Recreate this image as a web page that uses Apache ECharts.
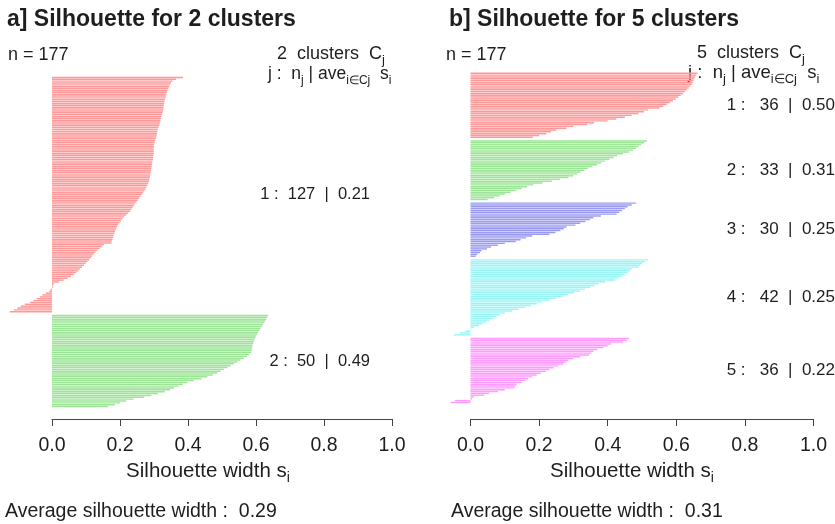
<!DOCTYPE html>
<html>
<head>
<meta charset="utf-8">
<script src="https://cdn.jsdelivr.net/npm/echarts@6/dist/echarts.min.js"></script>
<style>
  html, body { margin: 0; padding: 0; background: #ffffff; }
  #chart { width: 835px; height: 524px; }
</style>
</head>
<body>
<div id="chart"></div>
<script>
// Silhouette widths s(i), sorted within each cluster (top to bottom).
// Panel a: 2-cluster solution
const silA1 = [
  0.385, 0.365, 0.355, 0.350, 0.347, 0.345, 0.342, 0.340, 0.338, 0.336,
  0.335, 0.334, 0.332, 0.331, 0.330, 0.329, 0.328, 0.328, 0.327, 0.325,
  0.323, 0.321, 0.320, 0.319, 0.318, 0.317, 0.315, 0.313, 0.311, 0.310,
  0.309, 0.308, 0.307, 0.305, 0.303, 0.302, 0.300, 0.300, 0.299, 0.299,
  0.299, 0.299, 0.298, 0.298, 0.297,
  0.296, 0.295, 0.294, 0.293, 0.292, 0.291, 0.290, 0.289, 0.288, 0.287, 0.286,
  0.285, 0.283, 0.280, 0.278, 0.275, 0.272, 0.268, 0.264, 0.260, 0.256,
  0.252, 0.248, 0.244, 0.240, 0.237, 0.233, 0.229, 0.224, 0.218, 0.212,
  0.207, 0.203, 0.199, 0.195, 0.192, 0.189, 0.187, 0.185, 0.183, 0.181,
  0.180, 0.178, 0.176, 0.175,
  0.152, 0.146, 0.140, 0.133, 0.128, 0.123, 0.118, 0.114, 0.109, 0.104,
  0.099, 0.094, 0.088, 0.082, 0.077, 0.071, 0.064, 0.056, 0.046, 0.034, 0.020,
  0.006, 0.003, 0.002,
  -0.004, -0.008, -0.018, -0.028, -0.035, -0.045, -0.055, -0.065, -0.080,
  -0.092, -0.102, -0.112, -0.124
];
const silA2 = [
  0.636, 0.633, 0.630, 0.627, 0.624, 0.620, 0.617, 0.613, 0.610, 0.606,
  0.604, 0.601, 0.598, 0.596, 0.594, 0.592, 0.590, 0.589, 0.588, 0.587,
  0.586, 0.580, 0.573, 0.564, 0.554, 0.545, 0.535, 0.525, 0.516, 0.506,
  0.496, 0.486, 0.473, 0.457, 0.440, 0.417, 0.398, 0.385, 0.372, 0.359,
  0.347, 0.332, 0.312, 0.292, 0.271, 0.240, 0.218, 0.200, 0.185, 0.165
];

// Panel b: 5-cluster solution
const silB1 = [
  0.662, 0.658, 0.655, 0.652, 0.650, 0.648, 0.645, 0.641, 0.636, 0.630,
  0.625, 0.620, 0.613, 0.606, 0.598, 0.590, 0.581, 0.572, 0.562, 0.550,
  0.518, 0.506, 0.490, 0.470, 0.450, 0.425, 0.400, 0.360, 0.340, 0.300,
  0.280, 0.250, 0.235, 0.221, 0.200, 0.182
];
const silB2 = [
  0.514, 0.506, 0.498, 0.490, 0.482, 0.474, 0.462, 0.445, 0.428, 0.417,
  0.405, 0.392, 0.381, 0.369, 0.355, 0.342, 0.332, 0.321, 0.311, 0.299,
  0.285, 0.261, 0.237, 0.210, 0.183, 0.165, 0.149, 0.133, 0.117, 0.101,
  0.085, 0.070, 0.050
];
const silB3 = [
  0.482, 0.470, 0.458, 0.450, 0.442, 0.434, 0.426, 0.380, 0.358, 0.348,
  0.335, 0.320, 0.306, 0.280, 0.272, 0.262, 0.248, 0.230, 0.180, 0.162,
  0.146, 0.132, 0.100, 0.080, 0.060, 0.048, 0.032, 0.028, 0.020, 0.015
];
const silB4 = [
  0.518, 0.508, 0.500, 0.495, 0.491, 0.470, 0.464, 0.458, 0.450, 0.440,
  0.432, 0.422, 0.392, 0.374, 0.362, 0.350, 0.334, 0.318, 0.302, 0.284,
  0.268, 0.248, 0.230, 0.210, 0.194, 0.176, 0.160, 0.140, 0.122, 0.100,
  0.087, 0.076, 0.066, 0.055, 0.045, 0.035, 0.025, 0.010, 0.002, -0.015,
  -0.030, -0.048
];
const silB5 = [
  0.462, 0.455, 0.445, 0.410, 0.400, 0.388, 0.370, 0.358, 0.352, 0.346,
  0.320, 0.300, 0.285, 0.278, 0.270, 0.255, 0.242, 0.230, 0.220, 0.205,
  0.193, 0.180, 0.168, 0.160, 0.150, 0.134, 0.130, 0.128, 0.100, 0.080,
  0.055, 0.040, 0.010, 0.004, -0.045, -0.058
];

// Printed summaries
const clusterAvgA = ['0.21', '0.49'];
const clusterAvgB = ['0.50', '0.31', '0.25', '0.25', '0.22'];
const overallAvgA = '0.29';
const overallAvgB = '0.31';

// Axis ticks
const tickValues = [0, 0.2, 0.4, 0.6, 0.8, 1.0];
const tickLabels = ['0.0', '0.2', '0.4', '0.6', '0.8', '1.0'];

const colorsA = ['#ff9898', '#9ce596'];
const colorsB = ['#ff9898', '#9ce596', '#9a9af2', '#9af5f5', '#ff9aff'];

const FONT = '"Liberation Sans", Arial, Helvetica, sans-serif';
const INK = '#1e1e1e';

// Stack clusters top-down with one empty slot between neighbouring clusters
function buildBars(clusters, colors) {
  const data = [];
  const spans = [];
  clusters.forEach((c, k) => {
    if (k > 0) data.push('-');
    const start = data.length;
    c.forEach(v => data.push({ value: v, itemStyle: { color: colors[k] } }));
    spans.push([start, data.length - 1]);
  });
  const cats = data.map((_, i) => String(i));
  return { data, spans, cats };
}

const panelA = buildBars([silA1, silA2], colorsA);
const panelB = buildBars([silB1, silB2, silB3, silB4, silB5], colorsB);

const chart = echarts.init(document.getElementById('chart'), null, { renderer: 'canvas' });

function displayAxis(gridIndex) {
  return {
    type: 'value', gridIndex, min: 0, max: 1, interval: 0.2,
    axisLine: { show: true, lineStyle: { color: '#444', width: 1 } },
    axisTick: { show: true, inside: false, length: 7, lineStyle: { color: '#444', width: 1 } },
    axisLabel: {
      fontFamily: FONT, fontSize: 19.5, color: INK, margin: 17,
      formatter: v => tickLabels[tickValues.findIndex(t => Math.abs(t - v) < 1e-9)]
    },
    splitLine: { show: false }
  };
}

chart.setOption({
  animation: false,
  backgroundColor: '#ffffff',
  grid: [
    { left: 1, top: 76.5, width: 391, height: 331 },
    { left: 436.2, top: 72.4, width: 377.3, height: 331 },
    { left: 52, top: 409, width: 340, height: 10 },
    { left: 470.5, top: 409, width: 343, height: 10 }
  ],
  xAxis: [
    { type: 'value', gridIndex: 0, min: -0.15, max: 1, show: false },
    { type: 'value', gridIndex: 1, min: -0.1, max: 1, show: false },
    displayAxis(2),
    displayAxis(3)
  ],
  yAxis: [
    { type: 'category', gridIndex: 0, data: panelA.cats, inverse: true, show: false },
    { type: 'category', gridIndex: 1, data: panelB.cats, inverse: true, show: false },
    { type: 'value', gridIndex: 2, show: false },
    { type: 'value', gridIndex: 3, show: false }
  ],
  series: [
    { type: 'bar', xAxisIndex: 0, yAxisIndex: 0, data: panelA.data, barCategoryGap: '22%', silent: true },
    { type: 'bar', xAxisIndex: 1, yAxisIndex: 1, data: panelB.data, barCategoryGap: '22%', silent: true }
  ]
});

// ---- text annotations ----
function plain(x, y, text, size, opts) {
  opts = opts || {};
  return {
    type: 'text', x, y, silent: true,
    style: {
      text, fontFamily: FONT, fontSize: size, fontWeight: opts.bold ? 'bold' : 'normal',
      fill: INK, align: opts.align || 'left', verticalAlign: 'middle'
    }
  };
}
function rich(x, y, text, size, align) {
  const sub = Math.round(size * 0.7);
  return {
    type: 'text', x, y, silent: true,
    style: {
      text, fontFamily: FONT, fontSize: size, fill: INK,
      align: align || 'left', verticalAlign: 'middle',
      rich: {
        m: { fontFamily: FONT, fontSize: size, fill: INK, lineHeight: size + 8, verticalAlign: 'middle' },
        s: { fontFamily: FONT, fontSize: sub, fill: INK, lineHeight: sub, verticalAlign: 'bottom' }
      }
    }
  };
}

function clusterLabelY(yAxisIndex, span) {
  const y0 = chart.convertToPixel({ yAxisIndex }, span[0]);
  const y1 = chart.convertToPixel({ yAxisIndex }, span[1]);
  return (y0 + y1) / 2;
}

const sizesA = [silA1.length, silA2.length];
const sizesB = [silB1.length, silB2.length, silB3.length, silB4.length, silB5.length];

const graphics = [
  plain(7, 20, 'a] Silhouette for 2 clusters', 23, { bold: true }),
  plain(449, 20, 'b] Silhouette for 5 clusters', 23, { bold: true }),
  plain(8, 55, 'n = 177', 18),
  plain(446, 55, 'n = 177', 18),
  rich(277, 54, '{m|' + sizesA.length + '  clusters  C}{s|j}', 18),
  rich(268, 74, '{m|j :  n}{s|j}{m| | ave}{s|i∈Cj}{m|  s}{s|i}', 17.5),
  rich(697, 53, '{m|' + sizesB.length + '  clusters  C}{s|j}', 18),
  rich(688, 73, '{m|j :  n}{s|j}{m| | ave}{s|i∈Cj}{m|  s}{s|i}', 18.5),
  rich(208, 471, '{m|Silhouette width s}{s|i}', 20.5, 'center'),
  rich(632, 471, '{m|Silhouette width s}{s|i}', 20.5, 'center'),
  plain(5, 512, 'Average silhouette width :  ' + overallAvgA, 19.5),
  plain(451, 512, 'Average silhouette width :  ' + overallAvgB, 19.5)
];

panelA.spans.forEach((sp, k) => {
  graphics.push(plain(370, clusterLabelY(0, sp),
    (k + 1) + ' :  ' + sizesA[k] + '  |  ' + clusterAvgA[k], 16.5, { align: 'right' }));
});
panelB.spans.forEach((sp, k) => {
  graphics.push(plain(835, clusterLabelY(1, sp),
    (k + 1) + ' :   ' + sizesB[k] + '  |  ' + clusterAvgB[k], 17, { align: 'right' }));
});

chart.setOption({ graphic: graphics });
</script>
</body>
</html>
